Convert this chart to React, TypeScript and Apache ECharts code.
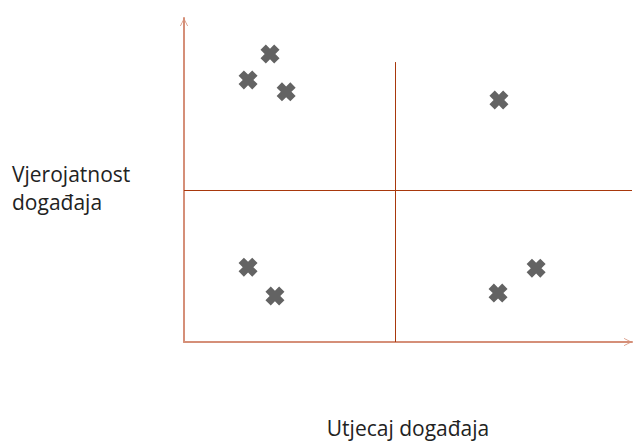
import React, { useEffect, useRef } from "react";
import * as echarts from "echarts";

const xName = "Utjecaj događaja";
const yName = "Vjerojatnost\ndogađaja";
const pointsX = [19.2, 14.3, 22.8, 70.3, 14.3, 20.3, 78.6, 70.1];
const pointsY = [88.9, 80.9, 77.2, 74.7, 23.1, 14.2, 22.8, 15.1];
const splitX = 47.1;
const splitY = 46.9;
const splitTopY = 86.4;

const XMARK = "path://M0,2.8 L2.8,0 L5,2.2 L7.2,0 L10,2.8 L7.8,5 L10,7.2 L7.2,10 L5,7.8 L2.8,10 L0,7.2 L2.2,5 Z";
const CHEVRON = "path://M0,10 L5,0 L10,10 L9,10 L5,2 L1,10 Z";

export default function App() {
  const ref = useRef<HTMLDivElement>(null);
  useEffect(() => {
    const chart = echarts.init(ref.current!, null, { renderer: "svg" });
    const data = pointsX.map((x, i) => [x, pointsY[i]]);
    const axisLine = {
      show: true,
      lineStyle: { color: "#d58f78", width: 2 },
      symbol: ["none", CHEVRON],
      symbolSize: [10, 8],
      symbolOffset: [0, -4],
    };
    chart.setOption({
      animation: false,
      textStyle: { fontFamily: "Open Sans" },
      grid: { left: 184, right: 2, top: 18, bottom: 100, containLabel: false, outerBoundsMode: "none" },
      xAxis: {
        type: "value",
        min: 0,
        max: 100,
        axisLine,
        axisTick: { show: false },
        axisLabel: { show: false },
        splitLine: { show: false },
        name: xName,
        nameLocation: "middle",
        nameGap: 75,
        nameTextStyle: { color: "#222", fontSize: 21, fontFamily: "Open Sans" },
      },
      yAxis: {
        type: "value",
        min: 0,
        max: 100,
        axisLine,
        axisTick: { show: false },
        axisLabel: { show: false },
        splitLine: { show: false },
      },
      graphic: [
        {
          type: "text",
          left: 12,
          top: 160,
          style: {
            text: yName,
            fontSize: 21,
            lineHeight: 28,
            fontFamily: "Open Sans",
            fill: "#222",
          },
        },
      ],
      series: [
        {
          type: "scatter",
          data,
          symbol: XMARK,
          symbolSize: 19,
          itemStyle: { color: "#636363", opacity: 1 },
          markLine: {
            silent: true,
            symbol: ["none", "none"],
            label: { show: false },
            emphasis: { disabled: true },
            lineStyle: { color: "#a8380c", width: 1, type: "solid", opacity: 1 },
            data: [
              [{ coord: [splitX, 0] }, { coord: [splitX, splitTopY] }],
              [{ coord: [0, splitY] }, { coord: [100, splitY] }],
            ],
          },
        },
      ],
    });
    return () => chart.dispose();
  }, []);
  return (
    <div
      ref={ref}
      style={{ position: "fixed", left: 0, top: 0, width: 634, height: 442, background: "#fff" }}
    />
  );
}
